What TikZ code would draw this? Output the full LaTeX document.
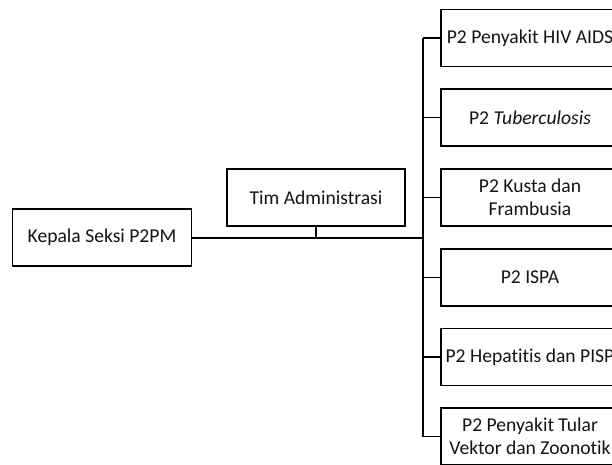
\documentclass[tikz,border=0pt]{standalone}
\usepackage{fontspec}
\setmainfont{Carlito}[RawFeature={-liga;-clig;-dlig;-calt}]
\begin{document}
\begin{tikzpicture}[x=1pt,y=-1pt,
  orgbox/.style={draw=black, line width=1.2pt, minimum width=179pt, minimum height=57pt,
    inner sep=0pt, align=center, text=black!92,
    font=\fontsize{19.6}{23.5}\selectfont},
  link/.style={draw=black, line width=1.4pt},
  mainlink/.style={draw=black, line width=2.8pt}]
\useasboundingbox (0,0) rectangle (612,464);
\clip (0,0) rectangle (612,464);
\fill[white] (0,0) rectangle (612,464);
\node[orgbox] (kep) at (102,237.5) {Kepala Seksi P2PM};
\node[orgbox, minimum width=178pt] (tim) at (316,197.5) {Tim Administrasi};
\node[orgbox, minimum width=178pt] (hiv) at (530,38) {P2 Penyakit HIV AIDS};
\node[orgbox, minimum width=178pt] (tb) at (530,117.5) {P2 \textit{Tuberculosis}};
\node[orgbox, minimum width=178pt] (kus) at (530,197.5) {P2 Kusta dan\\Frambusia};
\node[orgbox, minimum width=178pt] (ispa) at (530,277.5) {P2 ISPA};
\node[orgbox, minimum width=178pt] (hep) at (530,357) {P2 Hepatitis dan PISP};
\node[orgbox, minimum width=178pt] (tul) at (530,436.5) {P2 Penyakit Tular\\Vektor dan Zoonotik};
\coordinate (sp) at (423,0);
\coordinate (jt) at (423,238);
\draw[link] (hiv.west -| sp) -- (tul.west -| sp);
\foreach \n in {hiv,tb,kus,ispa,hep,tul}
  \draw[link] (\n.west) -- (\n.west -| sp);
\draw[mainlink] (kep.east |- jt) -- (jt);
\draw[link] (tim.south) -- (tim.south |- jt);
\end{tikzpicture}
\end{document}
